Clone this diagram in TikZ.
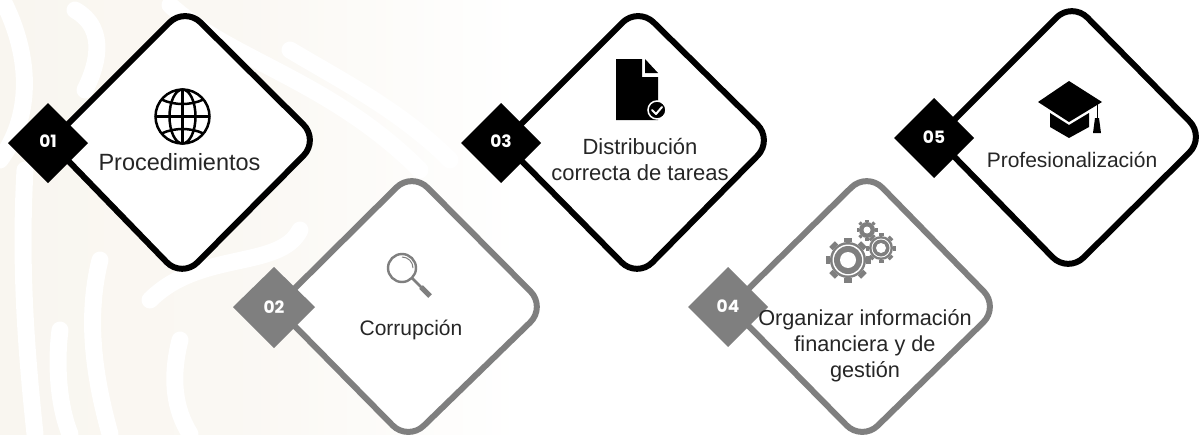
\documentclass[tikz,border=0pt]{standalone}
\usepackage{fontspec}
\setmainfont{Liberation Sans}
\newfontfamily\badgefont{Poppins}
\definecolor{ink}{HTML}{000000}
\definecolor{mid}{HTML}{7F7F7F}
\definecolor{txt}{HTML}{262626}
\definecolor{cream}{HTML}{F9F6F0}
\tikzset{
  panel/.style={draw=#1,line width=6pt,fill=white,rounded corners=22pt,line join=round},
  badge/.style={fill=#1,draw=none},
  badgetext/.style={text=white,font=\badgefont\bfseries\fontsize{17}{17}\selectfont,inner sep=0pt},
  label/.style={text=txt,align=center,inner sep=0pt,font=\fontsize{#1}{26}\selectfont},
  swirl/.style={draw=white,line width=17pt,line cap=round},
}
\newcommand{\gearicon}[6]{% x,y,body r,tooth r,tooth count,tooth width
  \foreach \a in {1,...,#5}{
    \draw[mid,line width=#6pt] ($(#1,#2)+({360/#5*\a}:#3pt)$) -- ($(#1,#2)+({360/#5*\a}:#4pt)$);
  }
  \fill[mid] (#1,#2) circle[radius=#3pt];
}
\usetikzlibrary{calc}
\begin{document}
\begin{tikzpicture}[x=1pt,y=-1pt]
\useasboundingbox (0,0) rectangle (1202,434);
% background
\shade[left color=cream,right color=white,middle color=cream!75] (0,0) rectangle (520,434);
\draw[swirl] (0,-5) .. controls (35,60) and (30,120) .. (0,160);
\draw[swirl] (75,10) .. controls (110,30) and (95,70) .. (85,90);
\draw[swirl] (25,170) .. controls (20,260) and (25,340) .. (35,434);
\draw[swirl] (100,260) .. controls (85,320) and (95,380) .. (110,434);
\draw[swirl] (170,5) .. controls (230,60) and (330,80) .. (420,170);
\draw[swirl] (290,50) .. controls (340,80) and (400,110) .. (450,160);
\draw[swirl] (150,300) .. controls (200,250) and (280,270) .. (300,230);
\draw[swirl] (180,340) .. controls (170,380) and (175,410) .. (190,434);
\draw[swirl] (60,330) .. controls (55,370) and (60,410) .. (70,434);
% panels
\draw[panel=ink] (185,7) -- (319,140) -- (182,278) -- (50,142) -- cycle;
\draw[panel=mid] (412,172) -- (546,307) -- (408,441) -- (276,307) -- cycle;
\draw[panel=ink] (638,7) -- (773,140) -- (637,278) -- (503,142) -- cycle;
\draw[panel=mid] (867,172) -- (999,307) -- (862,441) -- (730,307) -- cycle;
\draw[panel=ink] (1072,2) -- (1205,137) -- (1068,273) -- (936,138) -- cycle;
% badges
\fill[badge=ink] (48,103) -- (88,143) -- (48,183) -- (8,143) -- cycle;
\fill[badge=mid] (274,267) -- (315,307) -- (274,348) -- (233,307) -- cycle;
\fill[badge=ink] (501,103) -- (541,143) -- (501,183) -- (461,143) -- cycle;
\fill[badge=mid] (728,267) -- (768,307) -- (728,347) -- (688,307) -- cycle;
\fill[badge=ink] (934,98) -- (974,138) -- (934,178) -- (894,138) -- cycle;
\node[badgetext] (n1) at (48,141) {01};
\node[badgetext] (n2) at (274,307) {02};
\node[badgetext] (n3) at (501,141) {03};
\node[badgetext] (n4) at (728,306) {04};
\node[badgetext] (n5) at (934,137) {05};
% globe
\begin{scope}[shift={(182.5,116.5)},line width=2.5pt,ink]
  \draw (0,0) circle[radius=27pt];
  \draw (0,0) ellipse[x radius=13pt,y radius=27pt];
  \draw (0,-27) -- (0,27);
  \draw (-27,0) -- (27,0);
  \draw (-21,-17) .. controls (-8,-11) and (8,-11) .. (21,-17);
  \draw (-21,17) .. controls (-8,11) and (8,11) .. (21,17);
\end{scope}
% magnifier
\begin{scope}[mid]
  \draw[line width=2.4pt] (402,268) circle[radius=14pt];
  \draw[line width=1pt] (402,257) arc[start angle=90,end angle=0,radius=11pt];
  \draw[line width=2.6pt] (412,278) -- (423,289);
  \draw[line width=5pt] (421,287) -- (430,296);
\end{scope}
% document
\fill[ink] (616,59) -- (642,59) -- (642,77) -- (658,77) -- (658,120) -- (616,120) -- cycle;
\fill[ink] (645,59) -- (658,73) -- (645,73) -- cycle;
\draw[white,line width=1.5pt,fill=ink] (657,110) circle[radius=9pt];
\draw[white,line width=2pt,line cap=round,line join=round] (652,110) -- (656,114) -- (662,107);
% gears
\gearicon{848}{260}{18}{22.5}{8}{8}
\fill[white] (848,260) circle[radius=15.5pt];
\fill[mid] (848,260) circle[radius=14pt];
\fill[white] (848,260) circle[radius=8pt];
\gearicon{881}{248}{12}{15}{8}{5}
\fill[white] (881,248) circle[radius=9.5pt];
\fill[mid] (881,248) circle[radius=8.5pt];
\fill[white] (881,248) circle[radius=5pt];
\gearicon{867}{230}{8}{10.5}{8}{3.5}
\fill[white] (867,230) circle[radius=3.5pt];
% cap
\fill[ink] (1069,81) -- (1102,102) -- (1069,122) -- (1038,102) -- cycle;
\fill[ink] (1050,113) -- (1069,125) -- (1089,113) -- (1089,127) -- (1069,138) -- (1050,127) -- cycle;
\draw[ink,line width=1pt] (1097,104) -- (1097,122);
\fill[ink] (1095,118) -- (1099,118) -- (1101,133) -- (1093,133) -- cycle;
% labels
\node[label=23.5] (t1) at (179.5,162) {Procedimientos};
\node[label=21] (t2) at (411,330) {Corrupción};
\node[label=22] (t3) at (640,160) {Distribución\\correcta de tareas};
\node[label=21.7] (t4) at (865,346) {Organizar información\\financiera y de\\gestión};
\node[label=21] (t5) at (1072,160) {Profesionalización};
\end{tikzpicture}
\end{document}
